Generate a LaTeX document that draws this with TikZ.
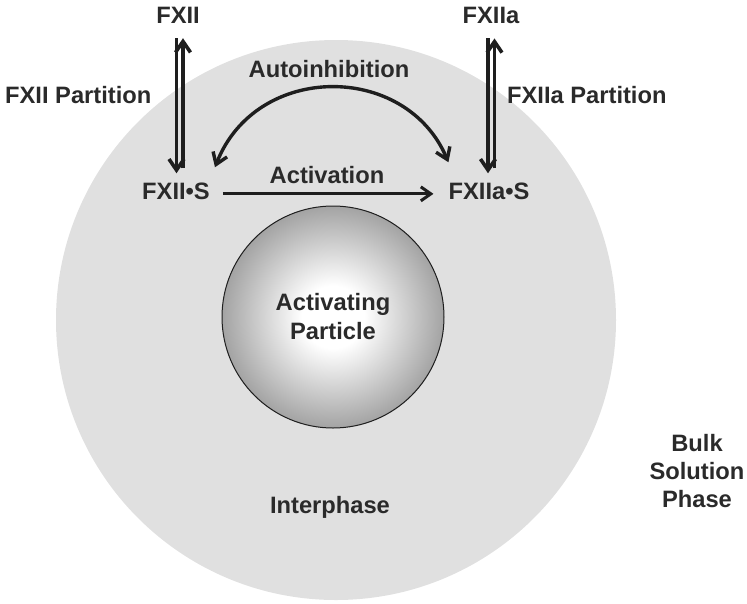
\documentclass[tikz,border=0pt]{standalone}
\usepackage{fontspec}
\setmainfont{Liberation Sans}
\usetikzlibrary{arrows.meta}
\definecolor{txt}{HTML}{2A2A2A}
\definecolor{linec}{HTML}{1E1E1E}
\definecolor{interph}{HTML}{E0E0E0}
\definecolor{sphedge}{HTML}{626262}
\definecolor{sphmid}{HTML}{9E9E9E}
\pgfdeclareradialshading{ballshade}{\pgfpoint{0bp}{0bp}}{color(0bp)=(white); color(7bp)=(white); color(26bp)=(sphmid); color(50bp)=(sphedge)}
\tikzset{
  lbl/.style={font=\fontsize{23.7}{28}\selectfont\bfseries, text=txt, inner sep=0pt},
  arr/.style={draw=linec, line width=3.6pt, -{Straight Barb[length=11pt,width=15pt]}},
  dblarr/.style={draw=linec, line width=3.4pt, {Straight Barb[length=11pt,width=15pt]}-{Straight Barb[length=11pt,width=15pt]}}
}
\begin{document}
\begin{tikzpicture}[x=1pt,y=-1pt]
\useasboundingbox (0,0) rectangle (747,603);
% interphase region
\node[circle, fill=interph, minimum size=560pt, inner sep=0pt] (interface) at (336,320) {};
% activating particle
\node[circle, draw=linec, line width=1pt, shading=ballshade, minimum size=222pt,
      inner sep=0pt, text=txt, align=center, font=\fontsize{23.7}{29}\selectfont\bfseries]
      (particle) at (333,317) {Activating\\Particle};
% labels
\node[lbl, anchor=base] (fxii) at (178,23) {FXII};
\node[lbl, anchor=base] (fxiia) at (491,23) {FXIIa};
\node[lbl, anchor=base west] (fxiipart) at (5,103) {FXII Partition};
\node[lbl, anchor=base west] (fxiiapart) at (507,103) {FXIIa Partition};
\node[lbl, anchor=base] (autoinh) at (329,77) {Autoinhibition};
\node[lbl, anchor=base] (activ) at (327,183) {Activation};
\node[lbl, anchor=base] (fxiis) at (176,199) {FXII•S};
\node[lbl, anchor=base] (fxiias) at (489,199) {FXIIa•S};
\node[lbl, anchor=base] (interphase) at (330,513) {Interphase};
\node[lbl, align=center] (bulk) at (697,471.5) {Bulk\\Solution\\Phase};
% FXII partition arrows
\draw[arr, shorten <=15pt, shorten >=9pt] ([xshift=-1.5pt]fxii.south) -- ([xshift=-1.5pt]fxii.south |- fxiis.north);
\draw[arr, shorten <=14pt, shorten >=15pt] ([xshift=5pt]fxii.south |- fxiis.north) -- ([xshift=5pt]fxii.south);
% FXIIa partition arrows
\draw[arr, shorten <=15pt, shorten >=9pt] ([xshift=-3pt]fxiia.south) -- ([xshift=-3pt]fxiia.south |- fxiias.north);
\draw[arr, shorten <=14pt, shorten >=15pt] ([xshift=3.5pt]fxiia.south |- fxiias.north) -- ([xshift=3.5pt]fxiia.south);
% activation
\draw[arr, line width=3pt, -{Straight Barb[length=10pt,width=14pt]}, shorten <=13pt, shorten >=15pt] ([yshift=-3pt]fxiis.east) -- ([yshift=-3pt]fxiis.east -| fxiias.west);
% autoinhibition
\draw[dblarr] ([xshift=5pt,yshift=15pt]fxiis.north east) .. controls (256,62) and (406,62) .. ([yshift=20pt]fxiias.north west);
\end{tikzpicture}
\end{document}
